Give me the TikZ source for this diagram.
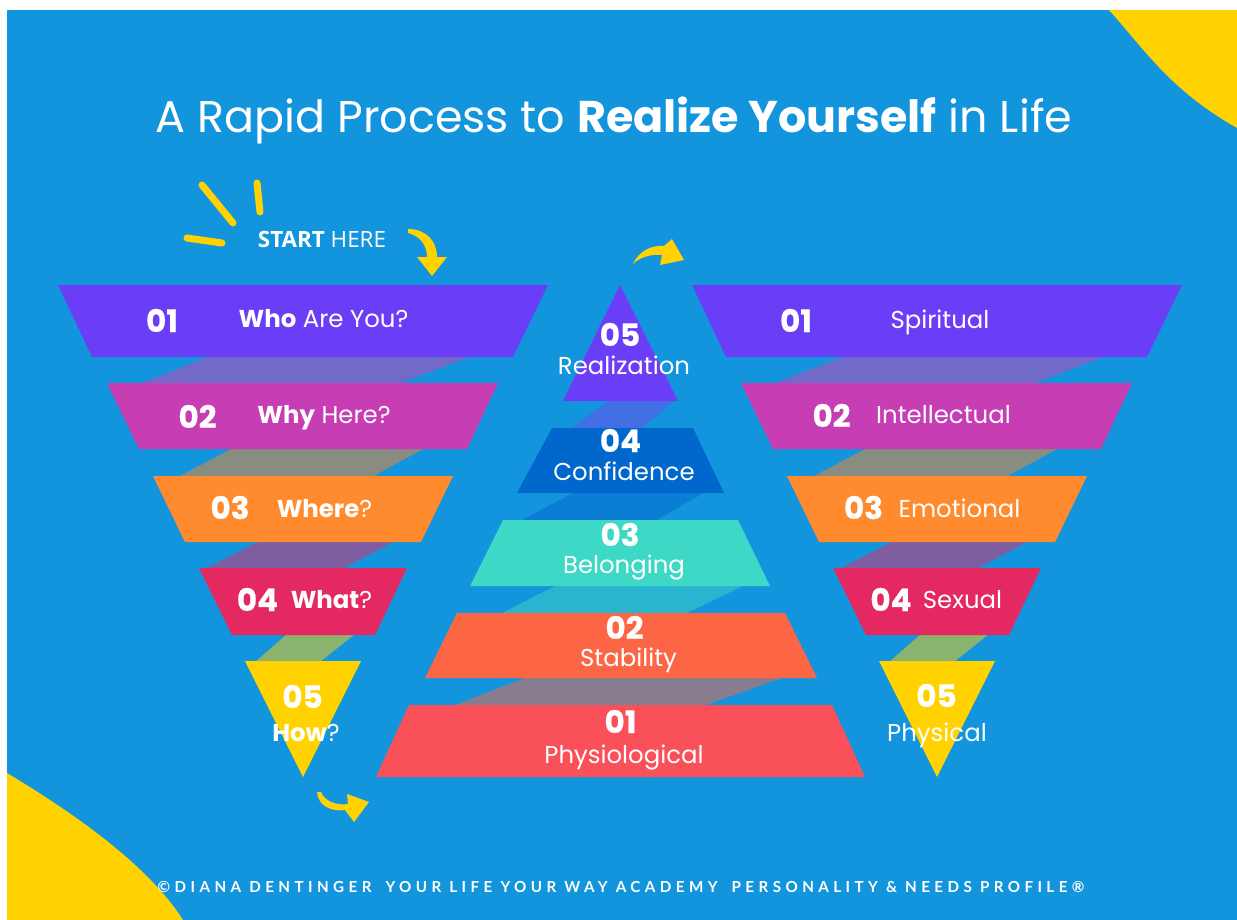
\documentclass[tikz,border=0pt]{standalone}
\usepackage{fontspec}
\setmainfont{Poppins}
\newfontfamily\numfont{Poppins}[BoldFeatures={FakeBold=0.6}]
\newfontfamily\startfont{Open Sans}
\newfontfamily\footfont{Lato}[LetterSpace=29]
\usetikzlibrary{positioning}
\definecolor{Bg}{HTML}{1295DC}
\definecolor{Sun}{HTML}{FFD200}
\definecolor{Violet}{HTML}{6A3EF7}
\definecolor{Orchid}{HTML}{C63DB4}
\definecolor{Tangerine}{HTML}{FF8B2E}
\definecolor{Rose}{HTML}{E42862}
\definecolor{Cobalt}{HTML}{0067CD}
\definecolor{Aqua}{HTML}{3ED8C6}
\definecolor{Coral}{HTML}{FD6645}
\definecolor{Salmon}{HTML}{F9505A}
% ribbons between the layers
\definecolor{BandA}{HTML}{716AC8}
\definecolor{BandB}{HTML}{888C81}
\definecolor{BandC}{HTML}{7E5EA1}
\definecolor{BandD}{HTML}{8AB36F}
\definecolor{BandE}{HTML}{4270E4}
\definecolor{BandF}{HTML}{0B7DD4}
\definecolor{BandG}{HTML}{29B5D0}
\definecolor{BandH}{HTML}{877D8F}

\begin{document}
\begin{tikzpicture}[x=0.5pt,y=-0.5pt,
  num/.style={font=\numfont\fontsize{15.5}{17}\selectfont\bfseries,text=white,anchor=base,inner sep=0pt},
  lbl/.style={font=\fontsize{12.2}{14}\selectfont,text=white,anchor=base,inner sep=0pt},
  spark/.style={Sun,line width=3.5pt,line cap=round}
]
  \fill[white] (0,0) rectangle (1237,920);
  \fill[Bg] (7,10) rectangle (1237,920);
  % yellow corners
  \fill[Sun] (1109,10) .. controls (1145,50) and (1170,90) .. (1237,128) -- (1237,10) -- cycle;
  \fill[Sun] (7,773) .. controls (60,805) and (145,860) .. (183,920) -- (7,920) -- cycle;

  \node[anchor=base,text=white,inner sep=0pt,font=\fontsize{22.2}{26}\selectfont] (title) at (614,133)
    {A Rapid Process to \textbf{Realize Yourself} in Life};

  % the two funnels share one shape
  \foreach \dx in {0,634}{
    \begin{scope}[shift={(\dx,0)}]
      \fill[BandA] (212,356) -- (472,356) -- (398,384) -- (138,384) -- cycle;
      \fill[BandB] (233,448) -- (425,448) -- (372,477) -- (178,477) -- cycle;
      \fill[BandC] (260,541) -- (395,541) -- (342,569) -- (205,569) -- cycle;
      \fill[BandD] (287,634) -- (355,634) -- (320,662) -- (255,662) -- cycle;
      \fill[Violet] (58,285) -- (548,285) -- (513,357) -- (92,357) -- cycle;
      \fill[Orchid] (107,383) -- (498,383) -- (467,449) -- (139,449) -- cycle;
      \fill[Tangerine] (153,476) -- (453,476) -- (421,542) -- (185,542) -- cycle;
      \fill[Rose] (199,568) -- (407,568) -- (375,635) -- (232,635) -- cycle;
      \fill[Sun] (245,661) -- (361,661) -- (303,777) -- cycle;
    \end{scope}
  }

  % pyramid in the middle
  \fill[BandE] (610,400) -- (676,400) -- (640,429) -- (570,429) -- cycle;
  \fill[BandF] (575,492) -- (705,492) -- (655,521) -- (520,521) -- cycle;
  \fill[BandG] (557,585) -- (745,585) -- (685,614) -- (500,614) -- cycle;
  \fill[BandH] (527,677) -- (785,677) -- (703,706) -- (453,706) -- cycle;
  \fill[Violet] (620,285) -- (678,401) -- (563,401) -- cycle;
  \fill[Cobalt] (552,428) -- (693,428) -- (724,493) -- (517,493) -- cycle;
  \fill[Aqua] (503,520) -- (738,520) -- (770,586) -- (470,586) -- cycle;
  \fill[Coral] (457,613) -- (785,613) -- (817,678) -- (425,678) -- cycle;
  \fill[Salmon] (409,705) -- (832,705) -- (865,777) -- (376,777) -- cycle;

  % start marker
  \draw[spark] (202,185) -- (233,223);
  \draw[spark] (257,183) -- (260,212);
  \draw[spark] (187,238) -- (222,243);
  \node[anchor=base,text=white,inner sep=0pt,font=\startfont\fontsize{11.2}{13}\selectfont] (start) at (322,247)
    {\textbf{START} HERE};
  \fill[Sun] (408,229) .. controls (426,229) and (437,241) .. (437,257) -- (447,257) -- (432,276)
    -- (417,257) -- (427,257) .. controls (427,245) and (420,236) .. (408,233) -- cycle;
  \fill[Sun] (633,264) .. controls (639,251) and (651,245) .. (664,246) -- (672,239) -- (684,260)
    -- (660,265) -- (662,255) .. controls (651,254) and (640,257) .. (633,264) -- cycle;
  \fill[Sun] (317,792) .. controls (318,805) and (330,812) .. (345,810) -- (354,822) -- (369,802)
    -- (347,794) -- (348,804) .. controls (335,806) and (324,800) .. (321,792) -- cycle;

  % left funnel
  \node[num] (w1) at (162,332) {01};
  \node[lbl] (q1) at (323.5,327) {\textbf{Who} Are You?};
  \node[num] (w2) at (197.5,428) {02};
  \node[lbl] (q2) at (324,423) {\textbf{Why} Here?};
  \node[num] (w3) at (230,519) {03};
  \node[lbl] (q3) at (324.5,517) {\textbf{Where}?};
  \node[num] (w4) at (257.5,611) {04};
  \node[lbl] (q4) at (331.5,608) {\textbf{What}?};
  \node[num] (w5) at (302.5,708) {05};
  \node[lbl] (q5) at (306,741) {\textbf{How}?};

  % pyramid
  \node[num] (p5) at (620,346) {05};
  \node[lbl] (n5) at (624,374) {Realization};
  \node[num] (p4) at (620.5,452) {04};
  \node[lbl] (n4) at (624,480) {Confidence};
  \node[num] (p3) at (620,546) {03};
  \node[lbl] (n3) at (624,573) {Belonging};
  \node[num] (p2) at (624.5,639) {02};
  \node[lbl] (n2) at (628.5,666) {Stability};
  \node[num] (p1) at (620.5,733) {01};
  \node[lbl] (n1) at (624,763) {Physiological};

  % right funnel
  \node[num] (e1) at (796,332) {01};
  \node[lbl] (s1) at (940,328) {Spiritual};
  \node[num] (e2) at (831.5,427) {02};
  \node[lbl] (s2) at (943.5,423) {Intellectual};
  \node[num] (e3) at (863.5,519) {03};
  \node[lbl] (s3) at (959.5,517) {Emotional};
  \node[num] (e4) at (891,611) {04};
  \node[lbl] (s4) at (962.5,608) {Sexual};
  \node[num] (e5) at (936.5,707) {05};
  \node[lbl] (s5) at (937,741) {Physical};

  \node[anchor=base,text=white,inner sep=0pt,font=\footfont\bfseries\fontsize{7.6}{9}\selectfont] (credit) at (621,892)
    {©DIANA DENTINGER\hspace{7pt}YOUR LIFE YOUR WAY ACADEMY\hspace{7pt}PERSONALITY \& NEEDS PROFILE®};
\end{tikzpicture}
\end{document}
